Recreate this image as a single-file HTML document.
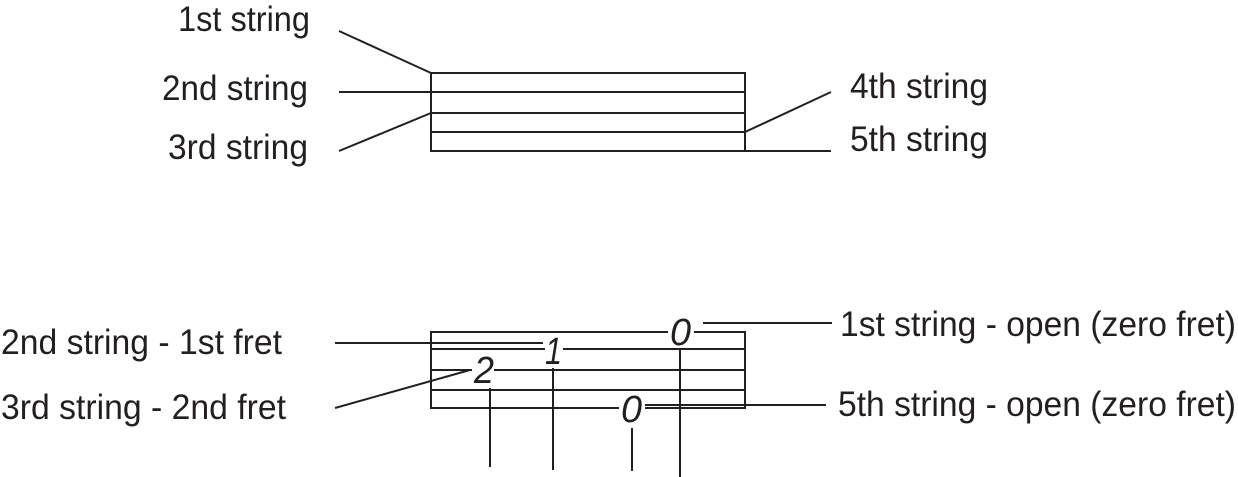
<!DOCTYPE html>
<html><head><style>html,body{margin:0;padding:0;background:#fff;}svg{display:block}</style></head>
<body>
<svg width="1238" height="477" viewBox="0 0 1238 477" xmlns="http://www.w3.org/2000/svg">
<g stroke="#231f20" stroke-width="2" fill="none">
<rect x="431" y="73" width="314" height="78"/>
<line x1="431" y1="92" x2="745" y2="92"/>
<line x1="431" y1="113" x2="745" y2="113"/>
<line x1="431" y1="132" x2="745" y2="132"/>
<line x1="339" y1="31" x2="431" y2="73"/>
<line x1="339" y1="92" x2="431" y2="92"/>
<line x1="339" y1="151" x2="431" y2="113"/>
<line x1="745" y1="132" x2="831" y2="92"/>
<line x1="745" y1="151" x2="831" y2="151"/>
<rect x="431" y="332" width="314" height="76"/>
<line x1="431" y1="349" x2="745" y2="349"/>
<line x1="431" y1="370" x2="745" y2="370"/>
<line x1="431" y1="390" x2="745" y2="390"/>
<line x1="335" y1="343" x2="543" y2="343"/>
<line x1="335" y1="408" x2="470" y2="370"/>
<line x1="703" y1="323" x2="832" y2="323"/>
<line x1="645" y1="405" x2="826" y2="405"/>
<line x1="490" y1="388" x2="490" y2="467"/>
<line x1="553" y1="368" x2="553" y2="470"/>
<line x1="632" y1="428" x2="632" y2="471"/>
<line x1="680" y1="348" x2="680" y2="477"/>
</g>
<g fill="#fff">
<rect x="472" y="356" width="22" height="30"/>
<rect x="545" y="336" width="18" height="30"/>
<rect x="668" y="316" width="26" height="30"/>
<rect x="619" y="394" width="26" height="30"/>
</g>
<g font-family="Liberation Sans, sans-serif" font-size="35" fill="#231f20">
<text x="178" y="31" textLength="132" lengthAdjust="spacingAndGlyphs">1st string</text>
<text x="162" y="100" textLength="146" lengthAdjust="spacingAndGlyphs">2nd string</text>
<text x="168" y="159" textLength="140" lengthAdjust="spacingAndGlyphs">3rd string</text>
<text x="850" y="98" textLength="138" lengthAdjust="spacingAndGlyphs">4th string</text>
<text x="850" y="151" textLength="138" lengthAdjust="spacingAndGlyphs">5th string</text>
<text x="1" y="354" textLength="281" lengthAdjust="spacingAndGlyphs">2nd string - 1st fret</text>
<text x="1" y="419" textLength="285" lengthAdjust="spacingAndGlyphs">3rd string - 2nd fret</text>
<text x="840" y="336" textLength="396" lengthAdjust="spacingAndGlyphs">1st string - open (zero fret)</text>
<text x="838" y="416" textLength="398" lengthAdjust="spacingAndGlyphs">5th string - open (zero fret)</text>
</g>
<g font-family="Liberation Sans, sans-serif" font-size="38" font-style="italic" fill="#231f20">
<text x="474" y="383" textLength="20" lengthAdjust="spacingAndGlyphs">2</text>
<text x="545" y="364" textLength="17" lengthAdjust="spacingAndGlyphs">1</text>
<text x="670" y="345" textLength="21" lengthAdjust="spacingAndGlyphs">0</text>
<text x="621" y="422" textLength="21" lengthAdjust="spacingAndGlyphs">0</text>
</g>
</svg>
</body></html>
